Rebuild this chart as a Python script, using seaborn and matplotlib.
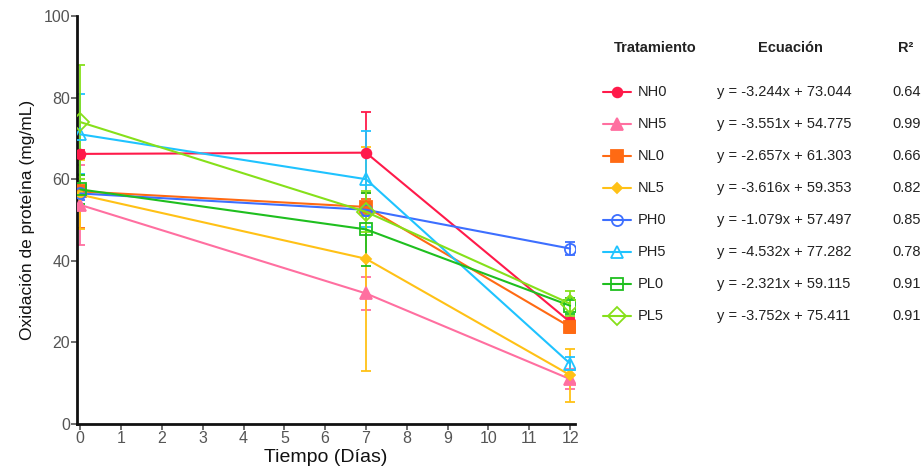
import matplotlib
matplotlib.use("Agg")
import matplotlib.pyplot as plt
from matplotlib.lines import Line2D
import seaborn as sns
import pandas as pd

days = [0, 7, 12]
treatments = ["NH0", "NH5", "NL0", "NL5", "PH0", "PH5", "PL0", "PL5"]
NH0 = [66.2, 66.5, 25.0]
NH5 = [53.7, 32.0, 11.0]
NL0 = [57.0, 53.2, 23.8]
NL5 = [56.2, 40.5, 12.0]
PH0 = [56.5, 52.5, 43.0]
PH5 = [71.0, 60.0, 14.8]
PL0 = [57.5, 47.7, 29.0]
PL5 = [74.0, 52.0, 29.5]
NH0_err = [1.0, 10.0, 1.0]
NH5_err = [9.8, 4.0, 2.5]
NL0_err = [9.0, 2.0, 1.5]
NL5_err = [8.5, 27.5, 6.5]
PH0_err = [1.5, 1.5, 1.7]
PH5_err = [9.8, 11.8, 1.5]
PL0_err = [3.5, 9.0, 2.0]
PL5_err = [14.0, 5.0, 3.0]
equations = ["y = -3.244x + 73.044", "y = -3.551x + 54.775", "y = -2.657x + 61.303",
             "y = -3.616x + 59.353", "y = -1.079x + 57.497", "y = -4.532x + 77.282",
             "y = -2.321x + 59.115", "y = -3.752x + 75.411"]
r2 = ["0.64", "0.99", "0.66", "0.82", "0.85", "0.78", "0.91", "0.91"]

values = dict(NH0=NH0, NH5=NH5, NL0=NL0, NL5=NL5, PH0=PH0, PH5=PH5, PL0=PL0, PL5=PL5)
errors = dict(NH0=NH0_err, NH5=NH5_err, NL0=NL0_err, NL5=NL5_err,
              PH0=PH0_err, PH5=PH5_err, PL0=PL0_err, PL5=PL5_err)

colors = {"NH0": "#ff1a4a", "NH5": "#ff6fa0", "NL0": "#ff6a13", "NL5": "#ffc116",
          "PH0": "#3d6fff", "PH5": "#1fc3ff", "PL0": "#1fbf1f", "PL5": "#86e01a"}
markers = {"NH0": ("o", True, 7), "NH5": ("^", True, 8), "NL0": ("s", True, 8),
           "NL5": ("D", True, 5), "PH0": ("o", False, 8), "PH5": ("^", False, 9),
           "PL0": ("s", False, 9), "PL5": ("D", False, 9)}

sns.set_theme(style="white")
plt.rcParams["font.family"] = ["Liberation Sans", "DejaVu Sans"]

fig = plt.figure(figsize=(9.24, 4.72), dpi=100)
ax = fig.add_axes([77 / 924, 48 / 472, (575 - 77) / 924, (424 - 16) / 472])

rows = []
for t in treatments:
    for d, v, e in zip(days, values[t], errors[t]):
        rows.append({"Tratamiento": t, "Dia": d, "Valor": v, "Err": e})
df = pd.DataFrame(rows)

for t in treatments:
    sub = df[df["Tratamiento"] == t]
    c = colors[t]
    ax.errorbar(sub["Dia"], sub["Valor"], yerr=sub["Err"], fmt="none", ecolor=c,
                elinewidth=1.3, capsize=3.5, capthick=1.3, zorder=2)
for t in treatments:
    sub = df[df["Tratamiento"] == t]
    c = colors[t]
    m, filled, ms = markers[t]
    sns.lineplot(data=sub, x="Dia", y="Valor", color=c, marker=m, markersize=ms,
                 markerfacecolor=c if filled else "none", markeredgecolor=c,
                 markeredgewidth=1.3, linewidth=1.5, ax=ax, zorder=3)

ax.set_xlim(-0.08, 12.12)
ax.set_ylim(0, 100)
ax.set_xticks(range(0, 13))
ax.set_yticks([0, 20, 40, 60, 80, 100])
ax.tick_params(axis="both", colors="#555555", labelsize=11.5, length=4, width=1.2,
               direction="out", bottom=True, left=True, pad=1)
for s in ["top", "right"]:
    ax.spines[s].set_visible(False)
for s in ["left", "bottom"]:
    ax.spines[s].set_color("#111111")
    ax.spines[s].set_linewidth(2)
ax.set_xlabel("Tiempo (Días)", fontsize=14, color="#111111", labelpad=2)
ax.set_ylabel("Oxidación de proteína (mg/mL)", fontsize=12.5, color="#111111", labelpad=6)
ax.grid(False)

W, H = 924, 472
def fx(px):
    return px / W
def fy(py):
    return 1 - py / H

fig.text(fx(655), fy(48), "Tratamiento", ha="center", va="center", fontsize=10.5, fontweight="bold", color="#222222")
fig.text(fx(790), fy(48), "Ecuación", ha="center", va="center", fontsize=10.5, fontweight="bold", color="#222222")
fig.text(fx(906), fy(48), "R²", ha="center", va="center", fontsize=10.5, fontweight="bold", color="#222222")

row_y = [92 + 32 * i for i in range(8)]
for i, t in enumerate(treatments):
    y = fy(row_y[i])
    c = colors[t]
    m, filled, ms = markers[t]
    fig.add_artist(Line2D([fx(603), fx(631)], [y, y], color=c, linewidth=1.5,
                          transform=fig.transFigure))
    fig.add_artist(Line2D([fx(617)], [y], color=c, marker=m, markersize=ms,
                          markerfacecolor=c if filled else "none", markeredgecolor=c,
                          markeredgewidth=1.3, transform=fig.transFigure))
    fig.text(fx(638), y, t, ha="left", va="center", fontsize=10.5, color="#222222")
    fig.text(fx(717), y, equations[i], ha="left", va="center", fontsize=10.5, color="#222222")
    fig.text(fx(892), y, r2[i], ha="left", va="center", fontsize=10.5, color="#222222")

fig.savefig("out.png", dpi=100)
